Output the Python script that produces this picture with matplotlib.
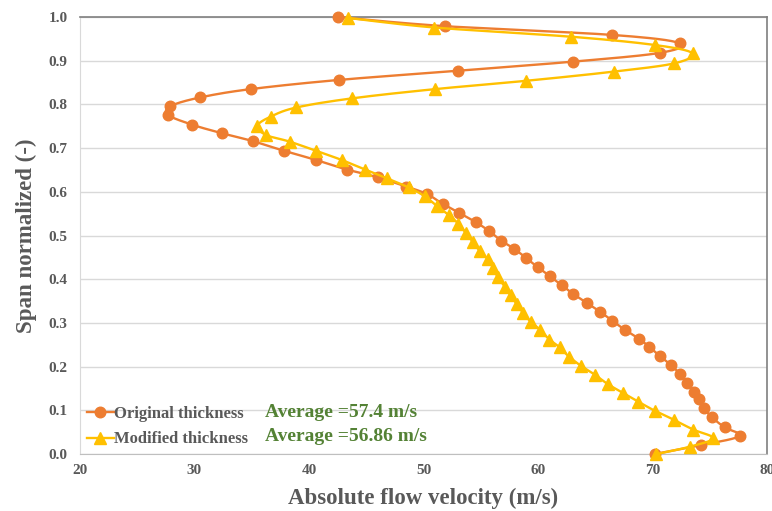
import numpy as np
import matplotlib.pyplot as plt
from matplotlib.lines import Line2D

plt.rcParams['font.family'] = ['Liberation Serif', 'DejaVu Serif']
plt.rcParams['font.weight'] = 'bold'

# span positions (-) and absolute flow velocity (m/s)
orig_span = [0.0, 0.020, 0.041, 0.061, 0.084, 0.105, 0.125, 0.143, 0.162, 0.183,
             0.204, 0.224, 0.246, 0.264, 0.284, 0.305, 0.326, 0.346, 0.366, 0.386,
             0.407, 0.427, 0.449, 0.470, 0.488, 0.510, 0.530, 0.552, 0.572, 0.595,
             0.612, 0.633, 0.651, 0.673, 0.694, 0.716, 0.734, 0.754, 0.776, 0.796,
             0.816, 0.835, 0.856, 0.877, 0.898, 0.918, 0.940, 0.959, 0.979, 1.0]
orig_vel = [70.2, 74.2, 77.6, 76.3, 75.2, 74.5, 74.05, 73.6, 73.0, 72.4,
            71.6, 70.65, 69.7, 68.8, 67.6, 66.5, 65.4, 64.25, 63.1, 62.1,
            61.05, 60.0, 58.95, 57.9, 56.8, 55.75, 54.6, 53.1, 51.7, 50.3,
            48.5, 46.05, 43.3, 40.6, 37.8, 35.1, 32.4, 29.75, 27.7, 27.9,
            30.5, 34.9, 42.6, 53.0, 63.1, 70.65, 72.4, 66.5, 51.9, 42.5]

mod_span = [0.0, 0.017, 0.036, 0.056, 0.078, 0.099, 0.120, 0.140, 0.160, 0.181,
            0.201, 0.223, 0.244, 0.262, 0.284, 0.303, 0.323, 0.343, 0.363, 0.383,
            0.404, 0.425, 0.446, 0.465, 0.486, 0.506, 0.527, 0.547, 0.567, 0.590,
            0.610, 0.631, 0.651, 0.673, 0.694, 0.715, 0.730, 0.751, 0.772, 0.793,
            0.814, 0.835, 0.854, 0.875, 0.894, 0.917, 0.936, 0.955, 0.976, 0.998]
mod_vel = [70.35, 73.3, 75.3, 73.55, 71.9, 70.2, 68.75, 67.4, 66.1, 65.0,
           63.8, 62.7, 61.9, 61.0, 60.2, 59.35, 58.7, 58.15, 57.6, 57.1,
           56.5, 56.1, 55.6, 54.9, 54.3, 53.7, 53.05, 52.2, 51.2, 50.1,
           48.7, 46.8, 44.9, 42.85, 40.6, 38.3, 36.25, 35.5, 36.65, 38.9,
           43.8, 51.0, 58.95, 66.6, 71.9, 73.5, 70.2, 62.85, 50.95, 43.4]

avg_orig = 57.4
avg_mod = 56.86

ORANGE = '#ED7D31'
YELLOW = '#FFC000'
GREY = '#595959'
GREEN = '#548235'


def smooth(x, y, n=16):
    """Excel-like smoothed line (cubic Bezier, tangents (P[i+1]-P[i-1])/6)."""
    p = np.column_stack([x, y]).astype(float)
    ext = np.vstack([p[0], p, p[-1]])
    t = np.linspace(0, 1, n, endpoint=False)[:, None]
    out = []
    for i in range(len(p) - 1):
        p0, p1, p2, p3 = ext[i], ext[i + 1], ext[i + 2], ext[i + 3]
        c1 = p1 + (p2 - p0) / 6
        c2 = p2 - (p3 - p1) / 6
        seg = ((1 - t) ** 3) * p1 + 3 * ((1 - t) ** 2) * t * c1 \
            + 3 * (1 - t) * t ** 2 * c2 + t ** 3 * p2
        out.append(seg)
    out.append(p[-1][None, :])
    out = np.vstack(out)
    return out[:, 0], out[:, 1]


fig = plt.figure(figsize=(7.72, 5.11), dpi=100)
ax = fig.add_axes([0.1036, 0.1115, 0.8899, 0.8552])

sx, sy = smooth(orig_vel, orig_span)
ax.plot(sx, sy, color=ORANGE, lw=1.7, zorder=3, clip_on=False)
ax.plot(orig_vel, orig_span, ls='none', marker='o', ms=7.6, color=ORANGE,
        zorder=4, clip_on=False)

sx, sy = smooth(mod_vel, mod_span)
ax.plot(sx, sy, color=YELLOW, lw=1.7, zorder=5, clip_on=False)
ax.plot(mod_vel, mod_span, ls='none', marker='^', ms=9, color=YELLOW,
        zorder=6, clip_on=False)

ax.set_xlim(20, 80)
ax.set_ylim(0, 1.0)
ax.set_xticks(np.arange(20, 81, 10))
ax.set_yticks(np.arange(0, 1.01, 0.1))
ax.set_yticklabels([f'{v:.1f}' for v in np.arange(0, 1.01, 0.1)])
ax.tick_params(length=0, labelsize=11, colors=GREY)
ax.tick_params(axis='y', pad=9)
ax.tick_params(axis='x', pad=7)
ax.grid(axis='y', color='#D9D9D9', lw=1.0)
ax.set_axisbelow(True)
for side in ['top', 'right']:
    ax.spines[side].set_color('#7F7F7F')
    ax.spines[side].set_linewidth(1.2)
ax.spines['left'].set_color('#D9D9D9')
ax.spines['bottom'].set_color('#BFBFBF')

ax.set_xlabel('Absolute flow velocity (m/s)', fontsize=16.5, color=GREY,
              fontweight='bold', labelpad=8)
ax.set_ylabel('Span normalized (-)', fontsize=16.5, color=GREY,
              fontweight='bold', labelpad=8)

handles = [Line2D([], [], color=ORANGE, lw=1.7, marker='o', ms=7.6),
           Line2D([], [], color=YELLOW, lw=1.7, marker='^', ms=9)]
leg = ax.legend(handles, ['Original thickness', 'Modified thickness'],
                loc='lower left', bbox_to_anchor=(0.01, 0.015), frameon=False,
                fontsize=12, handlelength=1.6, handletextpad=0.0,
                labelspacing=0.55, borderpad=0, borderaxespad=0)
for t in leg.get_texts():
    t.set_color(GREY)

ax.text(0.269, 0.096, f'Average ={avg_orig} m/s', transform=ax.transAxes,
        fontsize=14, color=GREEN, va='center', ha='left')
ax.text(0.269, 0.039, f'Average ={avg_mod} m/s', transform=ax.transAxes,
        fontsize=14, color=GREEN, va='center', ha='left')

fig.savefig('out.png', dpi=100)
